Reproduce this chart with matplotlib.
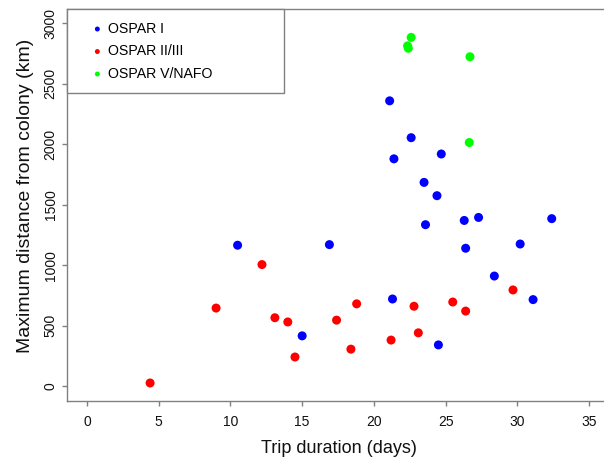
import matplotlib
matplotlib.use("Agg")
import matplotlib.pyplot as plt

# trip duration (days) / max distance from colony (km)
ospar1_days = [21.1, 22.6, 21.4, 24.7, 23.5, 24.4, 23.6, 26.3, 27.3, 32.4,
               10.5, 16.9, 26.4, 30.2, 28.4, 31.1, 21.3, 15.0, 24.5]
ospar1_km = [2360, 2055, 1880, 1920, 1685, 1575, 1335, 1370, 1395, 1385,
             1165, 1170, 1140, 1175, 910, 715, 720, 415, 340]

ospar23_days = [4.4, 12.2, 9.0, 13.1, 14.0, 14.5, 17.4, 18.8, 18.4, 21.2,
                22.8, 23.1, 25.5, 26.4, 29.7]
ospar23_km = [25, 1005, 645, 565, 530, 240, 545, 680, 305, 380,
              660, 440, 695, 620, 795]

ospar5_days = [22.6, 22.35, 22.4, 26.7, 26.65]
ospar5_km = [2885, 2815, 2795, 2725, 2015]

groups = ["OSPAR I", "OSPAR II/III", "OSPAR V/NAFO"]
colors = ["#0000ff", "#ff0000", "#00ff00"]

plt.rcParams['font.family'] = ['Liberation Sans', 'DejaVu Sans']
gray = "#808080"

fig = plt.figure(figsize=(6.04, 4.57), dpi=100)
ax = fig.add_axes([66.9 / 604, 56.5 / 457, 542.2 / 604, 391.5 / 457])

data = [(ospar1_days, ospar1_km), (ospar23_days, ospar23_km),
        (ospar5_days, ospar5_km)]
for (xs, ys), lab, col in zip(data, groups, colors):
    ax.scatter(xs, ys, s=42, color=col, edgecolors="none", label=lab,
               zorder=3)

ax.set_xlim(-1.4, 36.4)
ax.set_ylim(-120, 3120)
ax.set_xticks(range(0, 36, 5))
ax.set_yticks(range(0, 3001, 500))

for sp in ax.spines.values():
    sp.set_color(gray)
    sp.set_linewidth(1.0)

ax.tick_params(axis="both", direction="out", length=3.6, width=1.0,
               color=gray, labelsize=10, labelcolor="#111111")
ax.tick_params(axis="x", pad=6.5)
ax.tick_params(axis="y", pad=3)
for lbl in ax.get_yticklabels():
    lbl.set_rotation(90)
    lbl.set_va("center")

xl = ax.set_xlabel("Trip duration (days)", fontsize=13, color="#111111")
xl.set_va("baseline")
ax.xaxis.set_label_coords(0.502, -0.134)
yl = ax.set_ylabel("Maximum distance from colony (km)", fontsize=14,
                   color="#111111")
yl.set_va("center")
ax.yaxis.set_label_coords(-0.077, 0.522)

leg = ax.legend(loc="upper left", bbox_to_anchor=(0, 0, 0.4, 1),
                mode="expand", borderaxespad=0, fancybox=False,
                framealpha=1, edgecolor=gray, fontsize=10.2,
                markerscale=0.55, handlelength=2.5, handletextpad=-0.5,
                borderpad=0.9, labelspacing=0.6)
leg.get_frame().set_linewidth(1.0)

fig.savefig("out.png", dpi=100)
